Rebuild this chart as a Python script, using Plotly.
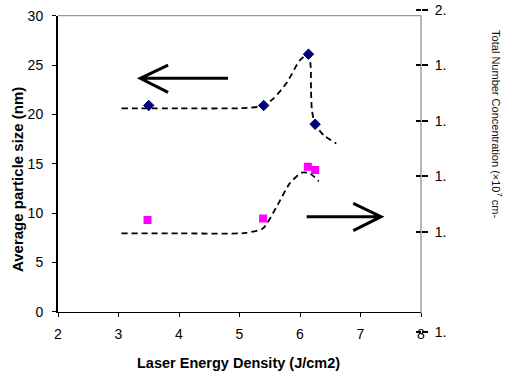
import plotly.graph_objects as go

# ---- data ----
energy_size = [3.5, 5.4, 6.14, 6.25]
particle_size = [20.9, 20.9, 26.1, 19.0]

energy_conc = [3.48, 5.39, 6.13, 6.25]
conc_scaled = [9.3, 9.45, 14.7, 14.35]

size_trend_x = [3.05, 4.0, 5.12, 5.4, 5.56, 5.78, 6.0, 6.14, 6.177, 6.182, 6.198, 6.25, 6.39, 6.6]
size_trend_y = [20.6, 20.6, 20.65, 20.9, 21.6, 23.2, 25.5, 26.1, 24.8, 22.5, 20.4, 19.0, 17.9, 17.05]

conc_trend_x = [3.05, 4.0, 5.1, 5.39, 5.61, 5.83, 6.03, 6.17, 6.31]
conc_trend_y = [7.94, 7.94, 7.98, 8.45, 10.6, 13.0, 14.1, 14.0, 13.2]

x_ticks = [2, 3, 4, 5, 6, 7, 8]
right_tickvals = [2.0, 1.8, 1.6, 1.4, 1.2, 0.84]
right_ticktext = ["2.", "1.", "1.", "1.", "1.", "1."]

FONT = "Liberation Sans, Arial, sans-serif"

fig = go.Figure()

fig.add_trace(go.Scatter(x=size_trend_x, y=size_trend_y, mode="lines",
                         line=dict(color="black", width=1.8, dash="6px,4px", shape="spline", smoothing=0.7),
                         showlegend=False, hoverinfo="skip"))
fig.add_trace(go.Scatter(x=conc_trend_x, y=conc_trend_y, mode="lines",
                         line=dict(color="black", width=1.8, dash="6px,4px", shape="spline", smoothing=0.6),
                         showlegend=False, hoverinfo="skip"))
fig.add_trace(go.Scatter(x=energy_size, y=particle_size, mode="markers",
                         marker=dict(symbol="diamond", size=8, color="#000080",
                                     line=dict(color="#000050", width=1)),
                         showlegend=False))
fig.add_trace(go.Scatter(x=energy_conc, y=conc_scaled, mode="markers",
                         marker=dict(symbol="square", size=8, color="#FF00FF",
                                     line=dict(color="#FF00FF", width=0)),
                         showlegend=False))

# invisible traces to carry the right-hand axes
fig.add_trace(go.Scatter(x=[2], y=[1.0], yaxis="y3", mode="lines",
                         showlegend=False, hoverinfo="skip"))
fig.add_trace(go.Scatter(x=[2], y=[1.0], yaxis="y4", mode="lines",
                         showlegend=False, hoverinfo="skip"))

# arrows (annotation graphics)
arrow_style = dict(color="black", width=3)
fig.add_shape(type="path", xref="x", yref="y",
              path="M 4.81 23.65 L 3.36 23.65 M 3.82 25.0 L 3.36 23.65 L 3.82 22.23",
              line=arrow_style)
fig.add_shape(type="path", xref="x", yref="y",
              path="M 6.11 9.63 L 7.34 9.63 M 6.88 10.98 L 7.34 9.63 L 6.88 8.21",
              line=arrow_style)

# plot border: top & right
fig.add_shape(type="line", xref="x domain", yref="y domain", x0=0, x1=1, y0=1, y1=1,
              line=dict(color="#808080", width=1))
fig.add_shape(type="line", xref="x domain", yref="y domain", x0=1, x1=1, y0=-0.008, y1=1,
              line=dict(color="#707070", width=1))

tickfont = dict(family=FONT, size=14, color="black")

fig.update_layout(
    template="none",
    width=505, height=377,
    margin=dict(l=58, r=84, t=5, b=40, autoexpand=False),
    paper_bgcolor="white", plot_bgcolor="rgba(0,0,0,0)",
    font=dict(family=FONT, color="black"),
    xaxis=dict(range=[2, 8], tickvals=x_ticks, ticks="outside", ticklen=4, tickcolor="black",
               showline=True, linecolor="black", linewidth=1, showgrid=False, zeroline=False,
               tickfont=tickfont, anchor="y", domain=[0, 1], ticklabelstandoff=5, automargin=False),
    yaxis=dict(range=[0, 30], dtick=5, ticks="outside", ticklen=4, tickcolor="black",
               showline=True, linecolor="black", linewidth=2, showgrid=False, zeroline=False,
               tickfont=tickfont, domain=[0.0762, 0.9678], ticklabelstandoff=6, automargin=False),
    yaxis3=dict(range=[0.8216, 2.018], domain=[0, 1], anchor="free", position=1, side="right",
                tickvals=right_tickvals, ticktext=right_ticktext, ticks="outside", ticklen=6,
                tickwidth=1.5, tickcolor="black", showline=False, showgrid=False, zeroline=False,
                tickfont=tickfont, ticklabelstandoff=4, automargin=False),
    yaxis4=dict(range=[0.8216, 2.018], overlaying="y3", anchor="free", position=1, side="right",
                tickvals=right_tickvals, ticks="inside", ticklen=5, tickwidth=1.5, tickcolor="black",
                showticklabels=False, showline=False, showgrid=False, zeroline=False, automargin=False),
    annotations=[
        dict(text="<b>Average particle size (nm)</b>", xref="paper", yref="paper",
             x=-0.110, y=0.473, textangle=-90, showarrow=False,
             xanchor="center", yanchor="middle", font=dict(family=FONT, size=15, color="black")),
        dict(text="<b>Laser Energy Density (J/cm2)</b>", xref="paper", yref="paper",
             x=0.496, y=-0.078, showarrow=False, xanchor="center", yanchor="middle",
             font=dict(family=FONT, size=14.5, color="black")),
        dict(text="Total Number Concentration (\u00d710<sup>7</sup> cm-", xref="paper", yref="paper",
             x=1.209, y=0.6416, textangle=90, showarrow=False, xanchor="center", yanchor="middle",
             font=dict(family=FONT, size=11, color="#111111")),
    ],
)

fig.write_html("out.html", config={"displayModeBar": False},
               post_script="document.body.style.margin='0';document.body.style.overflow='hidden';")
